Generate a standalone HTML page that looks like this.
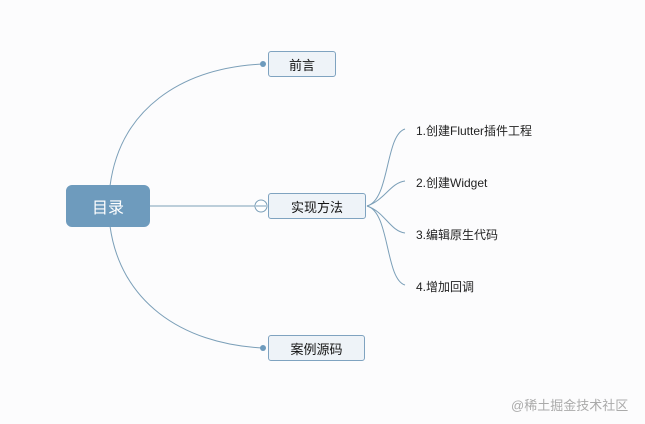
<!DOCTYPE html>
<html><head><meta charset="utf-8"><style>
body{margin:0;width:645px;height:424px;background:#fcfcfd;overflow:hidden;position:relative;font-family:"Liberation Sans","Noto Sans CJK SC",sans-serif}
.b{position:absolute;box-sizing:border-box;border:1px solid #7fa3c0;border-radius:3px;background:#eef3f8;font-size:13px;color:#111;display:flex;align-items:center;justify-content:center}
.t{position:absolute;font-size:12px;color:#222;left:416px}
</style></head><body>
<svg width="645" height="424" style="position:absolute;left:0;top:0" fill="none" stroke="#7b9fb8" stroke-width="1">
<path d="M110 186 C120 110 180 68 263 64"/>
<path d="M110 226 C120 300 180 344 263 348"/>
<path d="M150 206 H255"/>
<circle cx="263" cy="64" r="3" fill="#6e9bbd" stroke="none"/>
<circle cx="263" cy="348" r="3" fill="#6e9bbd" stroke="none"/>
<circle cx="261" cy="206" r="6" fill="#fff"/>
<path d="M256 206 H266"/>
<path d="M367 206 C390 200 385 135 405 129"/>
<path d="M367 206 C385 200 390 183 405 181"/>
<path d="M367 206 C385 212 390 231 405 233"/>
<path d="M367 206 C390 212 385 279 405 285"/>
</svg>
<div class="b" style="left:66px;top:185px;width:84px;height:42px;background:#6e9bbd;border-color:#6e9bbd;border-radius:6px;color:#fff;font-size:16px">目录</div>
<div class="b" style="left:268px;top:51px;width:68px;height:26px">前言</div>
<div class="b" style="left:268px;top:193px;width:98px;height:26px">实现方法</div>
<div class="b" style="left:268px;top:335px;width:97px;height:26px">案例源码</div>
<div class="t" style="top:122px">1.创建Flutter插件工程</div>
<div class="t" style="top:174px">2.创建Widget</div>
<div class="t" style="top:226px">3.编辑原生代码</div>
<div class="t" style="top:278px">4.增加回调</div>
<div style="position:absolute;left:511px;top:395px;font-size:13px;color:#aaa">@稀土掘金技术社区</div>
</body></html>
